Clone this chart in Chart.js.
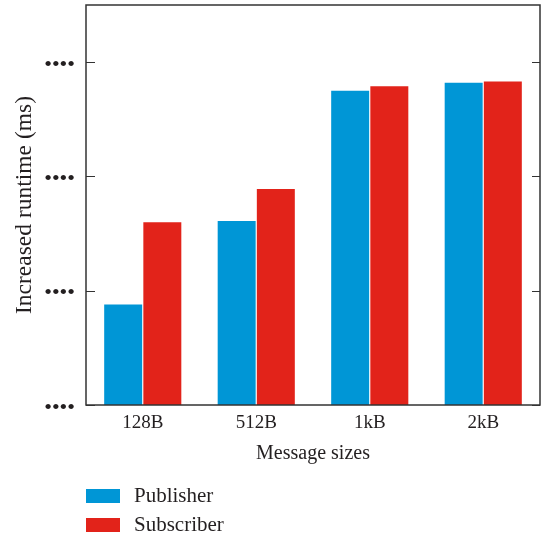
<!DOCTYPE html>
<html>
<head>
<meta charset="utf-8">
<script src="https://cdn.jsdelivr.net/npm/chart.js@4"></script>
<style>
  body { margin: 0; background: #fff; }
  #wrap { position: relative; width: 544px; height: 535px; }
  #legend { position: absolute; left: 86px; top: 481px; font-family: "Liberation Serif", serif; font-size: 21px; color: #231f20; }
  .item { display: flex; align-items: center; height: 29px; }
  .box { width: 34px; height: 14px; margin-right: 14px; }
</style>
</head>
<body>
<div id="wrap">
  <canvas id="chart" width="544" height="535"></canvas>
  <div id="legend"></div>
</div>
<script>
const categories = ['128B', '512B', '1kB', '2kB'];
const seriesNames = ['Publisher', 'Subscriber'];
const publisher = [0.88, 1.61, 2.75, 2.82];
const subscriber = [1.60, 1.89, 2.79, 2.83];
const yTickLabels = ['••••', '••••', '••••', '••••'];
const colors = ['#0096d6', '#e2231a'];

const ink = '#231f20';
const serif = '"Liberation Serif", serif';

// frame round the plot plus inward tick marks on both sides
const framePlugin = {
  id: 'frame',
  afterDraw(chart) {
    const {ctx, chartArea: a} = chart;
    const y = chart.scales.y;
    ctx.save();
    ctx.strokeStyle = '#333';
    ctx.lineWidth = 1.5;
    ctx.strokeRect(a.left, a.top, a.right - a.left, a.bottom - a.top);
    ctx.beginPath();
    y.ticks.forEach(t => {
      const py = Math.round(y.getPixelForValue(t.value)) + 0.5;
      ctx.moveTo(a.left, py); ctx.lineTo(a.left + 9, py);
      ctx.moveTo(a.right, py); ctx.lineTo(a.right - 8, py);
    });
    ctx.lineWidth = 1.2;
    ctx.stroke();
    ctx.restore();
  }
};

new Chart(document.getElementById('chart'), {
  type: 'bar',
  plugins: [framePlugin],
  data: {
    labels: categories,
    datasets: [
      { label: seriesNames[0], data: publisher, backgroundColor: colors[0], borderWidth: 0 },
      { label: seriesNames[1], data: subscriber, backgroundColor: colors[1], borderWidth: 0 }
    ]
  },
  options: {
    responsive: false,
    animation: false,
    layout: { padding: { top: 5, right: 4, bottom: 69, left: 0 } },
    categoryPercentage: 0.69,
    barPercentage: 0.97,
    scales: {
      x: {
        grid: { display: false, drawTicks: false },
        border: { display: false },
        ticks: { color: ink, font: { family: serif, size: 19 }, padding: 7 },
        title: { display: true, text: 'Message sizes', color: ink, font: { family: serif, size: 20 }, padding: { top: 2, bottom: 0 } },
        afterFit: s => { s.height = 61; s.paddingLeft = 0; s.paddingRight = 0; }
      },
      y: {
        min: 0,
        max: 3.5,
        grid: { display: false, drawTicks: false },
        border: { display: false },
        afterBuildTicks: s => { s.ticks = s.ticks.filter(t => Number.isInteger(t.value)); },
        ticks: {
          stepSize: 1,
          color: ink,
          font: { family: serif, size: 22 },
          padding: 11,
          labelOffset: 3,
          callback: (v, i) => yTickLabels[i]
        },
        title: { display: true, text: 'Increased runtime (ms)', color: ink, font: { family: serif, size: 23.5 }, padding: { top: 11, bottom: 0 } },
        afterFit: s => { s.width = 86; s.paddingTop = 0; s.paddingBottom = 0; }
      }
    },
    plugins: {
      legend: { display: false },
      tooltip: { enabled: false }
    }
  }
});

const legend = document.getElementById('legend');
seriesNames.forEach((name, i) => {
  const row = document.createElement('div');
  row.className = 'item';
  const box = document.createElement('span');
  box.className = 'box';
  box.style.background = colors[i];
  const txt = document.createElement('span');
  txt.textContent = name;
  row.appendChild(box);
  row.appendChild(txt);
  legend.appendChild(row);
});
</script>
</body>
</html>
